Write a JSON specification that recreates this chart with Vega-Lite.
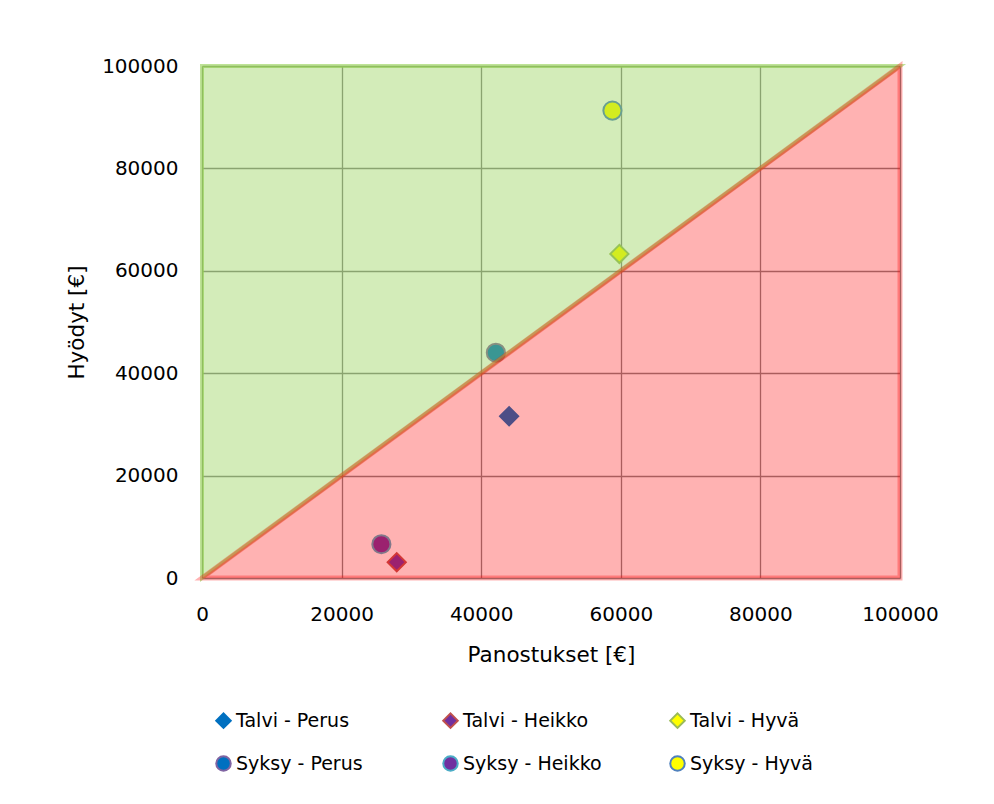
{
  "$schema": "https://vega.github.io/schema/vega-lite/v6.json",
  "width": 698,
  "height": 512,
  "autosize": {"type": "none"},
  "padding": {"left": 202, "top": 66, "right": 92, "bottom": 226},
  "background": "white",
  "datasets": {
    "pisteet": [
      {"sarja": "Talvi - Perus", "x": 44000, "y": 31600},
      {"sarja": "Talvi - Heikko", "x": 27900, "y": 3100},
      {"sarja": "Talvi - Hyvä", "x": 59800, "y": 63300},
      {"sarja": "Syksy - Perus", "x": 42100, "y": 44000},
      {"sarja": "Syksy - Heikko", "x": 25700, "y": 6600},
      {"sarja": "Syksy - Hyvä", "x": 58800, "y": 91300}
    ],
    "hyotyalue": [
      {"x": 0, "ala": 0, "yla": 100000},
      {"x": 100000, "ala": 100000, "yla": 100000}
    ],
    "tappioalue": [
      {"x": 0, "ala": 0, "yla": 0},
      {"x": 100000, "ala": 0, "yla": 100000}
    ]
  },
  "config": {
    "font": "DejaVu Sans",
    "view": {"stroke": null},
    "axis": {
      "labelFontSize": 20,
      "titleFontSize": 21.5,
      "titleFontWeight": "normal",
      "labelColor": "#000000",
      "titleColor": "#000000",
      "domain": false,
      "ticks": false,
      "grid": true,
      "gridColor": "#868686",
      "gridWidth": 1.3,
      "gridOpacity": 1,
      "labelFlush": false
    },
    "legend": {
      "labelFontSize": 19,
      "labelColor": "#000000"
    }
  },
  "layer": [
    {
      "data": {"name": "pisteet"},
      "mark": {"type": "point", "filled": true, "opacity": 1, "size": 330, "strokeWidth": 2},
      "encoding": {
        "x": {
          "field": "x", "type": "quantitative",
          "scale": {"domain": [0, 100000], "nice": false},
          "axis": {"title": "Panostukset [€]", "values": [0, 20000, 40000, 60000, 80000, 100000], "format": "d", "labelPadding": 26, "titlePadding": 20}
        },
        "y": {
          "field": "y", "type": "quantitative",
          "scale": {"domain": [0, 100000], "nice": false},
          "axis": {"title": "Hyödyt [€]", "values": [0, 20000, 40000, 60000, 80000, 100000], "format": "d", "labelPadding": 24, "titlePadding": 13}
        },
        "fill": {
          "field": "sarja", "type": "nominal",
          "scale": {
            "domain": ["Talvi - Perus", "Syksy - Perus", "Talvi - Heikko", "Syksy - Heikko", "Talvi - Hyvä", "Syksy - Hyvä"],
            "range": ["#0070C0", "#0070C0", "#7030A0", "#7030A0", "#FFFF00", "#FFFF00"]
          },
          "legend": {
            "title": null,
            "orient": "none",
            "legendX": 12,
            "legendY": 645,
            "columns": 3,
            "gridAlign": "all",
            "columnPadding": 64,
            "rowPadding": 20,
            "symbolSize": 210,
            "symbolStrokeWidth": 2,
            "labelOffset": 3
          }
        },
        "stroke": {
          "field": "sarja", "type": "nominal",
          "scale": {
            "domain": ["Talvi - Perus", "Syksy - Perus", "Talvi - Heikko", "Syksy - Heikko", "Talvi - Hyvä", "Syksy - Hyvä"],
            "range": ["#0070C0", "#8064A2", "#C0504D", "#4BACC6", "#9BBB59", "#4F81BD"]
          },
          "legend": {"title": null}
        },
        "shape": {
          "field": "sarja", "type": "nominal",
          "scale": {
            "domain": ["Talvi - Perus", "Syksy - Perus", "Talvi - Heikko", "Syksy - Heikko", "Talvi - Hyvä", "Syksy - Hyvä"],
            "range": ["diamond", "circle", "diamond", "circle", "diamond", "circle"]
          },
          "legend": {"title": null}
        }
      }
    },
    {
      "data": {"name": "hyotyalue"},
      "mark": {"type": "area", "color": "#92D050", "fillOpacity": 0.4, "stroke": "#92D050", "strokeOpacity": 0.6, "strokeWidth": 4},
      "encoding": {
        "x": {"field": "x", "type": "quantitative"},
        "y": {"field": "ala", "type": "quantitative"},
        "y2": {"field": "yla"}
      }
    },
    {
      "data": {"name": "tappioalue"},
      "mark": {"type": "area", "color": "#FF0000", "fillOpacity": 0.3, "stroke": "#FF0000", "strokeOpacity": 0.3, "strokeWidth": 5},
      "encoding": {
        "x": {"field": "x", "type": "quantitative"},
        "y": {"field": "ala", "type": "quantitative"},
        "y2": {"field": "yla"}
      }
    }
  ]
}
